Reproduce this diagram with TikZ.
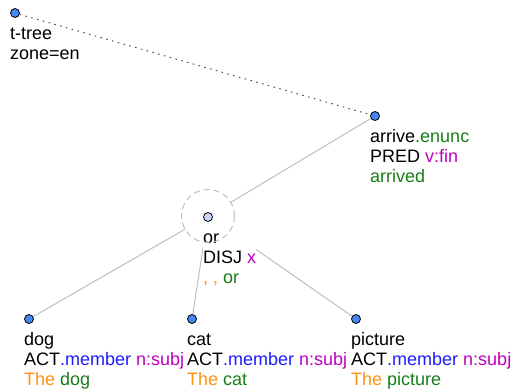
\documentclass[tikz,border=0pt]{standalone}
\usepackage{fontspec}
\setmainfont{Liberation Sans}
\usetikzlibrary{positioning}
\definecolor{vert}{RGB}{25,125,25}
\definecolor{bleu}{RGB}{30,30,250}
\definecolor{magenta}{RGB}{190,0,190}
\definecolor{orange}{RGB}{255,145,20}
\definecolor{bleupoint}{RGB}{70,135,245}
\definecolor{bleupale}{RGB}{200,215,245}
\definecolor{gris}{RGB}{190,190,190}
\begin{document}
\begin{tikzpicture}[x=1pt,y=-1pt]
    \tikzstyle{sommet}=[draw=black,line width=0.8pt,circle,fill=bleupoint,inner sep=0pt,minimum size=9pt]
    \tikzstyle{texte}=[inner sep=0pt,align=left,fill=white,font=\fontsize{18}{20}\selectfont]
    \tikzstyle{lien}=[gris,line width=1pt]
    \tikzstyle{pointille}=[black!70,line width=1pt,dash pattern=on 1.5pt off 4.5pt]
    \tikzstyle{anneau}=[gris,line width=1pt,dash pattern=on 6pt off 4pt]
    \useasboundingbox (0,0) rectangle (532,391);
    % les sommets
    \node[sommet] (racine) at (15,13) {};
    \node[sommet] (arrive) at (375,116) {};
    \node[sommet,fill=bleupale] (or) at (208,217) {};
    \node[circle,minimum size=53pt,inner sep=0pt] (orzone) at (208,216) {};
    \node[sommet] (dog) at (29,319) {};
    \node[sommet] (cat) at (192,319) {};
    \node[sommet] (picture) at (356,319) {};
    % les liens
    \draw[lien] (arrive) -- (orzone);
    \draw[lien] (orzone) -- (dog);
    \draw[lien] (orzone) -- (cat);
    \draw[lien] (orzone) -- (picture);
    % les textes
    \node[texte,fill=none,below right=12pt and -5pt of racine.center] (racinetxt)
        {\strut t-tree\\zone=en};
    \node[texte,below right=12pt and -5pt of arrive.center] (arrivetxt)
        {\strut arrive{\color{vert}.enunc}\\PRED {\color{magenta}v:fin}\\{\color{vert}arrived}};
    \node[texte,below right=12pt and -5pt of or.center] (ortxt)
        {\strut or\\DISJ {\color{magenta}x}\\{\color{orange}, ,} {\color{vert}or}};
    \node[texte,below right=12pt and -5pt of dog.center] (dogtxt)
        {\strut dog\\ACT{\color{bleu}.member} {\color{magenta}n:subj}\\{\color{orange}The} {\color{vert}dog}};
    \node[texte,below right=12pt and -5pt of cat.center] (cattxt)
        {\strut cat\\ACT{\color{bleu}.member} {\color{magenta}n:subj}\\{\color{orange}The} {\color{vert}cat}};
    \node[texte,below right=12pt and -5pt of picture.center] (picturetxt)
        {\strut picture\\ACT{\color{bleu}.member} {\color{magenta}n:subj}\\{\color{orange}The} {\color{vert}picture}};
    \draw[pointille] (racine) -- (arrive);
    \draw[anneau] (orzone.center) circle (26.5pt);
\end{tikzpicture}
\end{document}
